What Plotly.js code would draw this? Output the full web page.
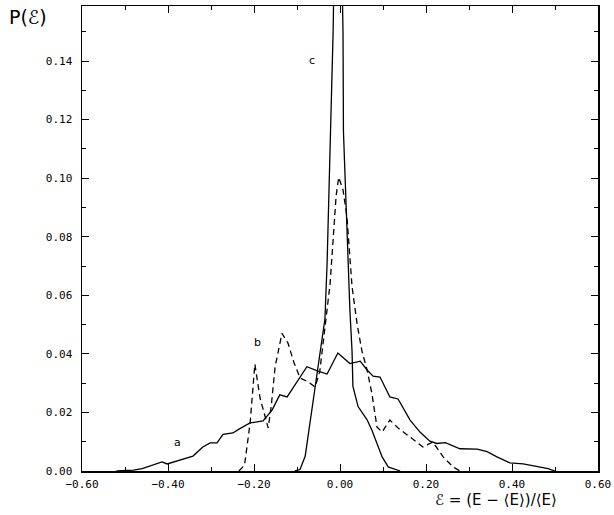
<!DOCTYPE html>
<html>
<head>
<meta charset="utf-8">
<script src="https://cdn.plot.ly/plotly-3.0.1.min.js"></script>
<style>html,body{margin:0;padding:0;background:#fff;}#chart{width:614px;height:515px;}</style>
</head>
<body>
<div id="chart"></div>
<script>
// Curve a (solid, broad)
const aX = [-0.52, -0.48, -0.46, -0.449, -0.43, -0.414, -0.402, -0.372, -0.342, -0.319, -0.302, -0.286, -0.272, -0.249, -0.235, -0.209, -0.179, -0.158, -0.140, -0.123, -0.093, -0.077, -0.051, -0.030, -0.005, 0.023, 0.047, 0.063, 0.077, 0.093, 0.116, 0.135, 0.163, 0.186, 0.209, 0.225, 0.245, 0.279, 0.319, 0.342, 0.365, 0.395, 0.426, 0.458, 0.484, 0.50];
const aY = [0.0, 0.0003, 0.0008, 0.0014, 0.0022, 0.0031, 0.0024, 0.0038, 0.0051, 0.0082, 0.0096, 0.0096, 0.0125, 0.0130, 0.0143, 0.0164, 0.0171, 0.0208, 0.0260, 0.0253, 0.0318, 0.0356, 0.0341, 0.0331, 0.0403, 0.0367, 0.0375, 0.0345, 0.0324, 0.0321, 0.0253, 0.0246, 0.0174, 0.0133, 0.0102, 0.0094, 0.0097, 0.0076, 0.0075, 0.0066, 0.0048, 0.0028, 0.0024, 0.0014, 0.0008, 0.0];
// Curve b (dashed)
const bX = [-0.235, -0.222, -0.209, -0.198, -0.186, -0.174, -0.167, -0.160, -0.151, -0.135, -0.121, -0.107, -0.093, -0.074, -0.058, -0.047, -0.035, -0.023, -0.016, -0.009, -0.003, 0.007, 0.016, 0.028, 0.040, 0.051, 0.063, 0.074, 0.086, 0.098, 0.116, 0.135, 0.163, 0.193, 0.216, 0.240, 0.263, 0.279];
const bY = [0.0, 0.002, 0.0164, 0.0365, 0.025, 0.018, 0.0147, 0.022, 0.0355, 0.047, 0.0437, 0.037, 0.0318, 0.0304, 0.0287, 0.034, 0.050, 0.064, 0.079, 0.094, 0.1003, 0.096, 0.087, 0.063, 0.050, 0.041, 0.0345, 0.0266, 0.015, 0.0133, 0.0174, 0.0147, 0.0116, 0.0082, 0.0099, 0.0048, 0.0014, 0.0];
// Curve c (solid, narrow; peak runs off the top)
const cX = [-0.105, -0.093, -0.081, -0.070, -0.058, -0.047, -0.035, -0.030, -0.027, -0.023, -0.019, -0.016, -0.005, 0.007, 0.008, 0.012, 0.019, 0.023, 0.028, 0.030, 0.042, 0.063, 0.074, 0.086, 0.098, 0.112, 0.133, 0.14];
const cY = [0.0, 0.0005, 0.005, 0.0164, 0.028, 0.039, 0.052, 0.071, 0.088, 0.105, 0.125, 0.15, 0.25, 0.15, 0.116, 0.099, 0.076, 0.055, 0.041, 0.029, 0.022, 0.0175, 0.014, 0.0096, 0.0048, 0.0014, 0.0003, 0.0];

const curveLabels = ['a', 'b', 'c'];
const labelX = [-0.379, -0.191, -0.065];
const labelY = [0.0096, 0.044, 0.1403];

const xRange = [-0.6, 0.6];
const yRange = [0, 0.1588];
const xTitle = 'ℰ = (E − ⟨E⟩)/⟨E⟩';
const yTitle = 'P(ℰ)';

const lineStyle = {color: '#000', width: 1.3};
const traces = [
  {x: aX, y: aY, mode: 'lines', line: lineStyle, hoverinfo: 'skip'},
  {x: bX, y: bY, mode: 'lines', line: {color: '#000', width: 1.3, dash: '6px,4px'}, hoverinfo: 'skip'},
  {x: cX, y: cY, mode: 'lines', line: lineStyle, hoverinfo: 'skip'}
];

const tickFont = {family: 'DejaVu Sans Mono', size: 11, color: '#000'};
const annotations = curveLabels.map((t, i) => ({
  x: labelX[i], y: labelY[i], xref: 'x', yref: 'y', text: t, showarrow: false,
  font: {family: 'DejaVu Sans', size: 11, color: '#000'}
}));
annotations.push({xref: 'paper', yref: 'paper', x: -0.145, y: 0.976, xanchor: 'left', yanchor: 'middle',
  text: yTitle, showarrow: false, font: {family: 'DejaVu Sans', size: 19, color: '#000'}});
annotations.push({xref: 'paper', yref: 'paper', x: 0.802, y: -0.062, xanchor: 'center', yanchor: 'middle',
  text: xTitle, showarrow: false, font: {family: 'DejaVu Sans', size: 15, color: '#000'}});

const layout = {
  width: 614, height: 515,
  margin: {l: 82, r: 16, t: 6, b: 44},
  paper_bgcolor: '#fff', plot_bgcolor: '#fff',
  showlegend: false,
  xaxis: {
    range: xRange, dtick: 0.2, tick0: -0.6, tickformat: '.2f',
    ticks: 'inside', ticklen: 7, tickwidth: 1, tickcolor: '#000',
    minor: {dtick: 0.1, ticks: 'inside', ticklen: 4, tickcolor: '#000', showgrid: false},
    showline: true, linecolor: '#000', linewidth: 1.5, mirror: 'allticks',
    showgrid: false, zeroline: false, tickfont: tickFont, ticklabelstandoff: 2
  },
  yaxis: {
    range: yRange, dtick: 0.02, tick0: 0, tickformat: '.2f',
    ticks: 'inside', ticklen: 7, tickwidth: 1, tickcolor: '#000',
    minor: {dtick: 0.01, ticks: 'inside', ticklen: 4, tickcolor: '#000', showgrid: false},
    showline: true, linecolor: '#000', linewidth: 1.5, mirror: 'allticks',
    showgrid: false, zeroline: false, tickfont: tickFont, ticklabelstandoff: 6
  },
  annotations: annotations
};

Plotly.newPlot('chart', traces, layout, {displayModeBar: false, staticPlot: true});
</script>
</body>
</html>
